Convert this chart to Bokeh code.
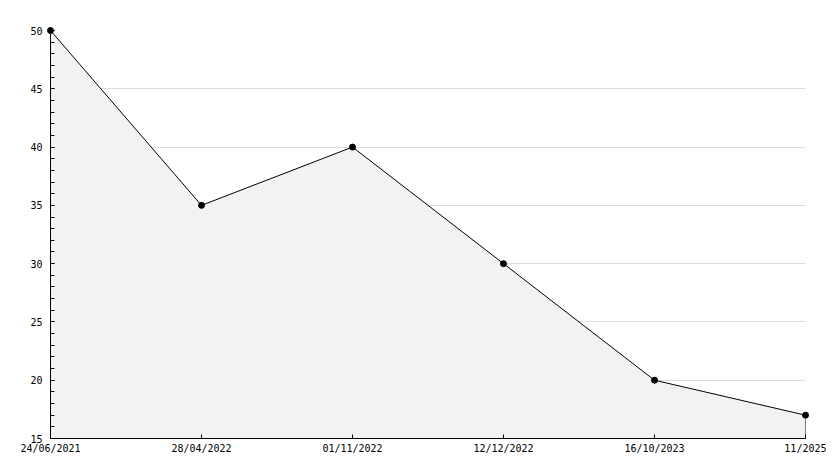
from bokeh.plotting import figure
from bokeh.models import FixedTicker, Range1d
from bokeh.embed import file_html
from bokeh.resources import INLINE

dates = ["24/06/2021", "28/04/2022", "01/11/2022", "12/12/2022", "16/10/2023", "11/2025"]
values = [50, 35, 40, 30, 20, 17]
y_ticks = [15, 20, 25, 30, 35, 40, 45, 50]
y_min, y_max = 15, 50

xs = list(range(len(dates)))

p = figure(width=826, height=458, output_backend="svg", toolbar_location=None,
           x_range=Range1d(0, len(dates) - 1), y_range=Range1d(y_min, y_max),
           min_border_left=50, min_border_right=21, min_border_top=30, min_border_bottom=20)
p.outline_line_color = None
p.background_fill_color = "white"
p.border_fill_color = "white"

# area polygon
px = xs + [xs[-1], xs[0]]
py = values + [y_min, y_min]
p.patch(px, py, fill_color="#f2f2f2", line_color="black", line_width=1)
p.scatter(xs, values, size=6, color="black", level="overlay")

p.xaxis.ticker = FixedTicker(ticks=xs)
p.xaxis.major_label_overrides = {i: d for i, d in enumerate(dates)}
p.yaxis.ticker = FixedTicker(ticks=y_ticks, minor_ticks=list(range(y_min, y_max + 1)))

font = "DejaVu Sans Mono"
for ax in (p.xaxis[0], p.yaxis[0]):
    ax.major_label_text_font = font
    ax.major_label_text_font_size = "10px"
    ax.major_label_text_color = "black"
    ax.axis_line_color = "black"
    ax.major_tick_line_color = "black"
    ax.minor_tick_line_color = "black"
    ax.major_tick_out = 0
    ax.minor_tick_out = 0

p.yaxis.major_tick_in = 4
p.yaxis.minor_tick_in = 4
p.yaxis.major_label_standoff = 8
p.xaxis.major_tick_in = 4
p.xaxis.minor_tick_line_color = None
p.xaxis.major_label_standoff = 4

p.xgrid.grid_line_color = None
p.ygrid.grid_line_color = "#dddddd"

open("out.html", "w").write(file_html(p, INLINE))
